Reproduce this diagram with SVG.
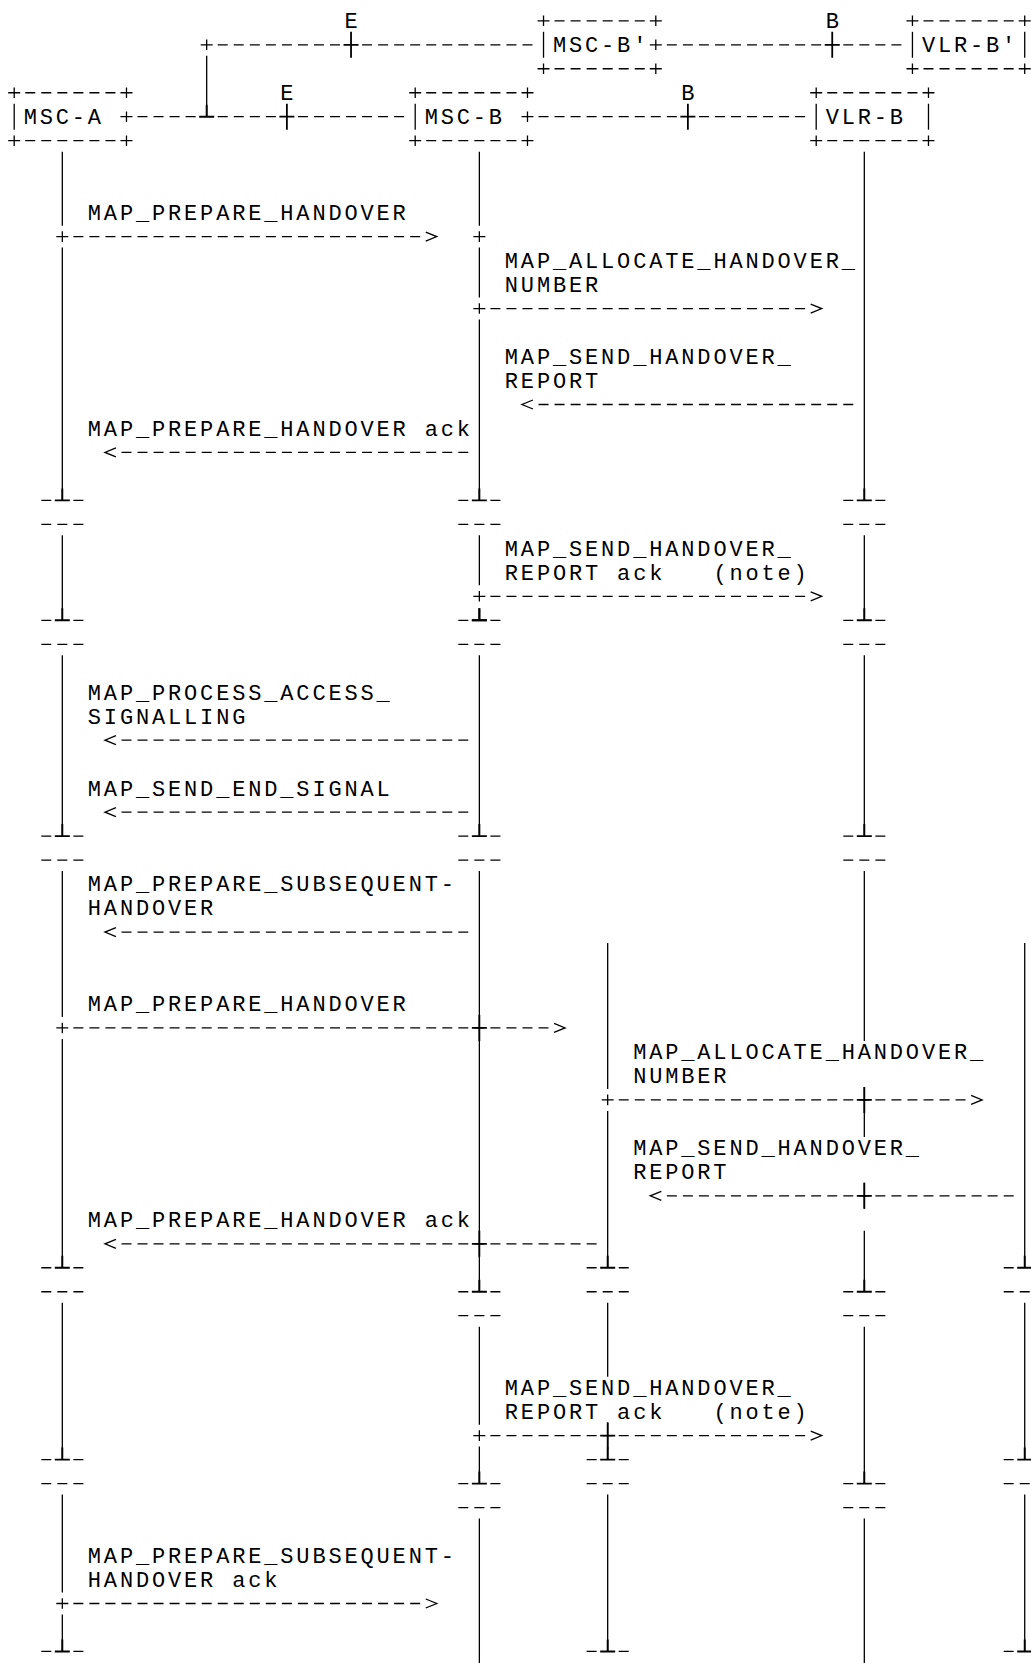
<svg xmlns="http://www.w3.org/2000/svg" xmlns:xlink="http://www.w3.org/1999/xlink" width="1031" height="1663" viewBox="0 0 1031 1663">
<style>
.t{font-family:"Liberation Mono","DejaVu Sans Mono",monospace;font-size:22px;letter-spacing:2.84px;fill:#000;white-space:pre}
.ln{stroke:#000;stroke-width:1.3;fill:none}
.ds{stroke:#000;stroke-width:1.3;stroke-dasharray:10 6.04;fill:none}
</style>
<defs>
<path id="plus" d="M-6 0H6M0-5.3V5.3" stroke="#000" stroke-width="1.3" fill="none"/>
<path id="xb" d="M-7.5 0H7.5M0-13V13" stroke="#000" stroke-width="1.8" fill="none"/>
<path id="tee" d="M-7.5 0H7.5M0-12V0" stroke="#000" stroke-width="1.9" fill="none"/>
<g id="brk"><path d="M-21.04 0H-11.04M11.04 0H21.04" stroke="#000" stroke-width="1.3" fill="none"/><use href="#tee"/></g>
<path id="brk2" d="M-21.04 0H-11.04M-5 0H5M11.04 0H21.04" stroke="#000" stroke-width="1.3" fill="none"/>
<path id="arR" d="M-5.5-4.5L5.5 0L-5.5 4.5" stroke="#000" stroke-width="1.3" fill="none"/>
<path id="arL" d="M5.5-4.5L-5.5 0L5.5 4.5" stroke="#000" stroke-width="1.3" fill="none"/>
</defs>
<rect width="1031" height="1663" fill="#fff"/>

<g id="node-msc-a">
<line class="ds" x1="25.24" y1="92.74" x2="115.44" y2="92.74"/>
<line class="ds" x1="25.24" y1="140.7" x2="115.44" y2="140.7"/>
<use href="#plus" x="14.2" y="92.74"/><use href="#plus" x="126.48" y="92.74"/>
<use href="#plus" x="14.2" y="140.7"/><use href="#plus" x="126.48" y="140.7"/>
<line class="ln" x1="14.2" y1="103.72" x2="14.2" y2="129.72"/>
<use href="#plus" x="126.48" y="116.72"/>
<text class="t" x="23.64" y="124.12">MSC-A</text>
<path class="ln" d="M62.32 151.68V225.64M62.32 247.6V500.4M62.32 535.36V620.3M62.32 655.26V836.12M62.32 871.08V1016.98M62.32 1038.94V1267.76M62.32 1302.72V1459.6M62.32 1494.56V1592.5M62.32 1614.46V1651.44"/>
<use href="#brk" x="62.32" y="500.4"/><use href="#brk2" x="62.32" y="524.38"/>
<use href="#brk" x="62.32" y="620.3"/><use href="#brk2" x="62.32" y="644.28"/>
<use href="#brk" x="62.32" y="836.12"/><use href="#brk2" x="62.32" y="860.1"/>
<use href="#brk" x="62.32" y="1267.76"/><use href="#brk2" x="62.32" y="1291.74"/>
<use href="#brk" x="62.32" y="1459.6"/><use href="#brk2" x="62.32" y="1483.58"/>
<use href="#brk" x="62.32" y="1651.44"/>
</g>

<g id="node-msc-b">
<line class="ds" x1="426.24" y1="92.74" x2="516.44" y2="92.74"/>
<line class="ds" x1="426.24" y1="140.7" x2="516.44" y2="140.7"/>
<use href="#plus" x="415.2" y="92.74"/><use href="#plus" x="527.48" y="92.74"/>
<use href="#plus" x="415.2" y="140.7"/><use href="#plus" x="527.48" y="140.7"/>
<line class="ln" x1="415.2" y1="103.72" x2="415.2" y2="129.72"/>
<use href="#plus" x="527.48" y="116.72"/>
<text class="t" x="424.64" y="124.12">MSC-B</text>
<path class="ln" d="M479.36 151.68V225.64M479.36 247.6V297.58M479.36 319.54V500.4M479.36 535.36V585.34M479.36 655.26V836.12M479.36 871.08V1291.74M479.36 1326.7V1424.64M479.36 1446.6V1483.58M479.36 1518.54V1663"/>
<use href="#plus" x="479.36" y="236.62"/>
<use href="#tee" x="479.36" y="620.3"/>
<use href="#brk" x="479.36" y="500.4"/><use href="#brk2" x="479.36" y="524.38"/>
<use href="#brk" x="479.36" y="620.3"/><use href="#brk2" x="479.36" y="644.28"/>
<use href="#brk" x="479.36" y="836.12"/><use href="#brk2" x="479.36" y="860.1"/>
<use href="#brk" x="479.36" y="1291.74"/><use href="#brk2" x="479.36" y="1315.72"/>
<use href="#brk" x="479.36" y="1483.58"/><use href="#brk2" x="479.36" y="1507.56"/>
</g>

<g id="node-vlr-b">
<line class="ds" x1="827.24" y1="92.74" x2="917.44" y2="92.74"/>
<line class="ds" x1="827.24" y1="140.7" x2="917.44" y2="140.7"/>
<use href="#plus" x="816.2" y="92.74"/><use href="#plus" x="928.48" y="92.74"/>
<use href="#plus" x="816.2" y="140.7"/><use href="#plus" x="928.48" y="140.7"/>
<line class="ln" x1="816.2" y1="103.72" x2="816.2" y2="129.72"/>
<line class="ln" x1="928.48" y1="103.72" x2="928.48" y2="129.72"/>
<text class="t" x="825.64" y="124.12">VLR-B</text>
<path class="ln" d="M864.32 151.68V500.4M864.32 535.36V620.3M864.32 655.26V836.12M864.32 871.08V1040.96M864.32 1086.9V1136.88M864.32 1182.82V1208.82M864.32 1230.78V1291.74M864.32 1326.7V1483.58M864.32 1518.54V1663"/>
<use href="#brk" x="864.32" y="500.4"/><use href="#brk2" x="864.32" y="524.38"/>
<use href="#brk" x="864.32" y="620.3"/><use href="#brk2" x="864.32" y="644.28"/>
<use href="#brk" x="864.32" y="836.12"/><use href="#brk2" x="864.32" y="860.1"/>
<use href="#brk" x="864.32" y="1291.74"/><use href="#brk2" x="864.32" y="1315.72"/>
<use href="#brk" x="864.32" y="1483.58"/><use href="#brk2" x="864.32" y="1507.56"/>
</g>

<g id="node-msc-b2">
<line class="ds" x1="554.56" y1="20.8" x2="644.76" y2="20.8"/>
<line class="ds" x1="554.56" y1="68.76" x2="644.76" y2="68.76"/>
<use href="#plus" x="543.52" y="20.8"/><use href="#plus" x="655.8" y="20.8"/>
<use href="#plus" x="543.52" y="68.76"/><use href="#plus" x="655.8" y="68.76"/>
<line class="ln" x1="543.52" y1="31.78" x2="543.52" y2="57.78"/>
<use href="#plus" x="655.8" y="44.78"/>
<text class="t" x="552.96" y="52.18">MSC-B'</text>
<path class="ln" d="M607.68 943.02V1088.92M607.68 1110.88V1267.76M607.68 1302.72V1376.68M607.68 1422.62V1459.6M607.68 1494.56V1651.44"/>
<use href="#brk" x="607.68" y="1267.76"/><use href="#brk2" x="607.68" y="1291.74"/>
<use href="#brk" x="607.68" y="1459.6"/><use href="#brk2" x="607.68" y="1483.58"/>
<use href="#brk" x="607.68" y="1651.44"/>
</g>

<g id="node-vlr-b2">
<line class="ds" x1="923.48" y1="20.8" x2="1013.68" y2="20.8"/>
<line class="ds" x1="923.48" y1="68.76" x2="1013.68" y2="68.76"/>
<use href="#plus" x="912.44" y="20.8"/><use href="#plus" x="1024.72" y="20.8"/>
<use href="#plus" x="912.44" y="68.76"/><use href="#plus" x="1024.72" y="68.76"/>
<line class="ln" x1="912.44" y1="31.78" x2="912.44" y2="57.78"/>
<line class="ln" x1="1024.72" y1="31.78" x2="1024.72" y2="57.78"/>
<text class="t" x="921.88" y="52.18">VLR-B'</text>
<path class="ln" d="M1024.72 943.02V1267.76M1024.72 1302.72V1459.6M1024.72 1494.56V1651.44"/>
<use href="#brk" x="1024.72" y="1267.76"/><use href="#brk2" x="1024.72" y="1291.74"/>
<use href="#brk" x="1024.72" y="1459.6"/><use href="#brk2" x="1024.72" y="1483.58"/>
<use href="#brk" x="1024.72" y="1651.44"/>
</g>

<g id="connectors">
<g id="links">
<line class="ds" x1="217.72" y1="44.78" x2="340" y2="44.78"/>
<line class="ds" x1="362.08" y1="44.78" x2="532.48" y2="44.78"/>
<line class="ds" x1="666.84" y1="44.78" x2="821.2" y2="44.78"/>
<line class="ds" x1="843.28" y1="44.78" x2="901.4" y2="44.78"/>
<use href="#plus" x="206.68" y="44.78"/>
<use href="#xb" x="351.04" y="44.78"/><use href="#xb" x="832.24" y="44.78"/>
<line class="ln" x1="206.68" y1="55.76" x2="206.68" y2="116.72"/>
<use href="#tee" x="206.68" y="116.72"/>
<line class="ds" x1="137.52" y1="116.72" x2="195.64" y2="116.72"/>
<line class="ds" x1="217.72" y1="116.72" x2="275.84" y2="116.72"/>
<line class="ds" x1="297.92" y1="116.72" x2="404.16" y2="116.72"/>
<line class="ds" x1="538.52" y1="116.72" x2="676.84" y2="116.72"/>
<line class="ds" x1="698.92" y1="116.72" x2="805.16" y2="116.72"/>
<use href="#xb" x="286.88" y="116.72"/><use href="#xb" x="687.88" y="116.72"/>
<text class="t" x="344.44" y="28.2">E</text>
<text class="t" x="825.64" y="28.2">B</text>
<text class="t" x="280.28" y="100.14">E</text>
<text class="t" x="681.28" y="100.14">B</text>
</g>

<g id="m1">
<text class="t" x="87.8" y="220.04">MAP_PREPARE_HANDOVER</text>
<use href="#plus" x="62.32" y="236.62"/>
<line class="ds" x1="73.36" y1="236.62" x2="420.2" y2="236.62"/>
<use href="#arR" x="431.24" y="236.62"/>
</g>
<g id="m2">
<text class="t" x="504.84" y="268">MAP_ALLOCATE_HANDOVER_</text>
<text class="t" x="504.84" y="291.98">NUMBER</text>
<use href="#plus" x="479.36" y="308.56"/>
<line class="ds" x1="490.4" y1="308.56" x2="805.16" y2="308.56"/>
<use href="#arR" x="816.2" y="308.56"/>
</g>
<g id="m3">
<text class="t" x="504.84" y="363.92">MAP_SEND_HANDOVER_</text>
<text class="t" x="504.84" y="387.9">REPORT</text>
<use href="#arL" x="527.48" y="404.48"/>
<line class="ds" x1="538.52" y1="404.48" x2="853.28" y2="404.48"/>
</g>
<g id="m4">
<text class="t" x="87.8" y="435.86">MAP_PREPARE_HANDOVER ack</text>
<use href="#arL" x="110.44" y="452.44"/>
<line class="ds" x1="121.48" y1="452.44" x2="468.32" y2="452.44"/>
</g>
<g id="m5">
<text class="t" x="504.84" y="555.76">MAP_SEND_HANDOVER_</text>
<text class="t" x="504.84" y="579.74" xml:space="preserve">REPORT ack   (note)</text>
<use href="#plus" x="479.36" y="596.32"/>
<line class="ds" x1="490.4" y1="596.32" x2="805.16" y2="596.32"/>
<use href="#arR" x="816.2" y="596.32"/>
</g>
<g id="m6">
<text class="t" x="87.8" y="699.64">MAP_PROCESS_ACCESS_</text>
<text class="t" x="87.8" y="723.62">SIGNALLING</text>
<use href="#arL" x="110.44" y="740.2"/>
<line class="ds" x1="121.48" y1="740.2" x2="468.32" y2="740.2"/>
</g>
<g id="m7">
<text class="t" x="87.8" y="795.56">MAP_SEND_END_SIGNAL</text>
<use href="#arL" x="110.44" y="812.14"/>
<line class="ds" x1="121.48" y1="812.14" x2="468.32" y2="812.14"/>
</g>
<g id="m8">
<text class="t" x="87.8" y="891.48">MAP_PREPARE_SUBSEQUENT-</text>
<text class="t" x="87.8" y="915.46">HANDOVER</text>
<use href="#arL" x="110.44" y="932.04"/>
<line class="ds" x1="121.48" y1="932.04" x2="468.32" y2="932.04"/>
</g>
<g id="m9">
<text class="t" x="87.8" y="1011.38">MAP_PREPARE_HANDOVER</text>
<use href="#plus" x="62.32" y="1027.96"/>
<line class="ds" x1="73.36" y1="1027.96" x2="548.52" y2="1027.96"/>
<use href="#xb" x="479.36" y="1027.96"/>
<use href="#arR" x="559.56" y="1027.96"/>
</g>
<g id="m10">
<text class="t" x="633.16" y="1059.34">MAP_ALLOCATE_HANDOVER_</text>
<text class="t" x="633.16" y="1083.32">NUMBER</text>
<use href="#plus" x="607.68" y="1099.9"/>
<line class="ds" x1="618.72" y1="1099.9" x2="965.56" y2="1099.9"/>
<use href="#xb" x="864.32" y="1099.9"/>
<use href="#arR" x="976.6" y="1099.9"/>
</g>
<g id="m11">
<text class="t" x="633.16" y="1155.26">MAP_SEND_HANDOVER_</text>
<text class="t" x="633.16" y="1179.24">REPORT</text>
<use href="#arL" x="655.8" y="1195.82"/>
<line class="ds" x1="666.84" y1="1195.82" x2="1013.68" y2="1195.82"/>
<use href="#xb" x="864.32" y="1195.82"/>
</g>
<g id="m12">
<text class="t" x="87.8" y="1227.2">MAP_PREPARE_HANDOVER ack</text>
<use href="#arL" x="110.44" y="1243.78"/>
<line class="ds" x1="121.48" y1="1243.78" x2="596.64" y2="1243.78"/>
<use href="#xb" x="479.36" y="1243.78"/>
</g>
<g id="m13">
<text class="t" x="504.84" y="1395.06">MAP_SEND_HANDOVER_</text>
<text class="t" x="504.84" y="1419.04" xml:space="preserve">REPORT ack   (note)</text>
<use href="#plus" x="479.36" y="1435.62"/>
<line class="ds" x1="490.4" y1="1435.62" x2="805.16" y2="1435.62"/>
<use href="#xb" x="607.68" y="1435.62"/>
<use href="#arR" x="816.2" y="1435.62"/>
</g>
<g id="m14">
<text class="t" x="87.8" y="1562.92">MAP_PREPARE_SUBSEQUENT-</text>
<text class="t" x="87.8" y="1586.9">HANDOVER ack</text>
<use href="#plus" x="62.32" y="1603.48"/>
<line class="ds" x1="73.36" y1="1603.48" x2="420.2" y2="1603.48"/>
<use href="#arR" x="431.24" y="1603.48"/>
</g>
</g>
</svg>
